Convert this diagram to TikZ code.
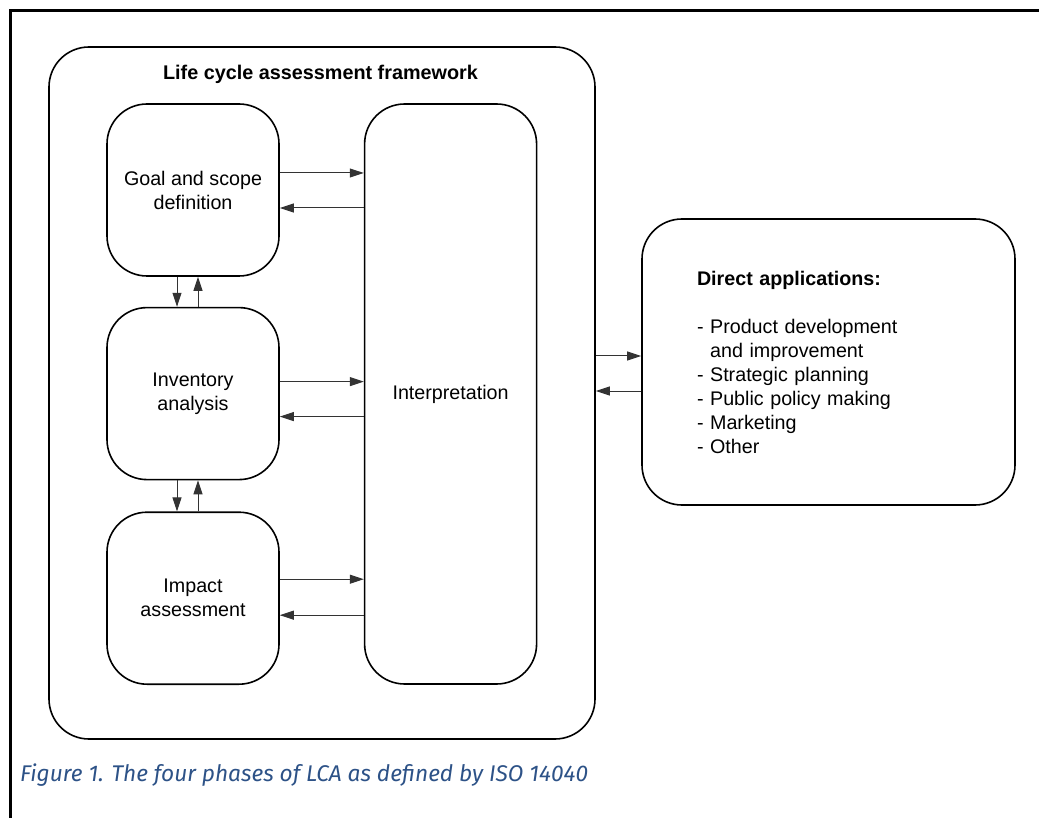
\documentclass[tikz,border=0pt]{standalone}
\usepackage{fontspec}
\setmainfont{Liberation Sans}
\newfontfamily\capfont{Fira Sans}
\usetikzlibrary{arrows.meta}
\usetikzlibrary{positioning}
\definecolor{capblue}{RGB}{45,82,135}
\begin{document}
\begin{tikzpicture}[x=1pt,y=-1pt]
  \tikzset{phase/.style={draw,line width=1.6pt,rounded corners=40pt,minimum width=172pt,
             minimum height=#1,align=center,font=\fontsize{19.7}{24}\selectfont},
           phase/.default=172pt,
           flow/.style={-{Triangle[length=14pt,width=9pt]},line width=1pt,black!80}}
  \useasboundingbox (0,0) rectangle (1039,818);
  \draw[line width=3.5pt] (1039,10.5) -- (10.5,10.5) -- (10.5,818);

  \node[phase=692pt,minimum width=546pt] (lca) at (322,393) {};
  \node[font=\bfseries\fontsize{19.8}{24}\selectfont] (title) at (320.5,74) {Life cycle assessment framework};
  \node[phase] (goal) at (193,190) {Goal and scope\\definition};
  \node[phase,below=30pt of goal] (inventory) {Inventory\\analysis};
  \node[phase,below=31pt of inventory] (impact) {Impact\\assessment};
  \node[phase=580pt,anchor=north west] (interp) at ([xshift=84pt]goal.north east) {Interpretation};
  \node[phase=286pt,minimum width=373pt,inner xsep=55pt,text width=263pt,align=left] (direct) at (828.5,362)
    {\textbf{Direct applications:}\\[24pt]
     - Product development\\
     \hphantom{- }and improvement\\
     - Strategic planning\\
     - Public policy making\\
     - Marketing\\
     - Other};

  \draw[flow] ([yshift=17pt]goal.east) -- ([yshift=17pt]goal.east -| interp.west);
  \draw[flow] ([yshift=-18pt]goal.east -| interp.west) -- ([yshift=-18pt]goal.east);
  \draw[flow] ([yshift=12pt]inventory.east) -- ([yshift=12pt]inventory.east -| interp.west);
  \draw[flow] ([yshift=-23pt]inventory.east -| interp.west) -- ([yshift=-23pt]inventory.east);
  \draw[flow] ([yshift=19pt]impact.east) -- ([yshift=19pt]impact.east -| interp.west);
  \draw[flow] ([yshift=-17pt]impact.east -| interp.west) -- ([yshift=-17pt]impact.east);

  \draw[flow] ([xshift=-16pt]goal.south) -- ([xshift=-16pt]inventory.north);
  \draw[flow] ([xshift=5pt]inventory.north) -- ([xshift=5pt]goal.south);
  \draw[flow] ([xshift=-16pt]inventory.south) -- ([xshift=-16pt]impact.north);
  \draw[flow] ([xshift=5pt]impact.north) -- ([xshift=5pt]inventory.south);

  \draw[flow] ([yshift=6pt]direct.west -| lca.east) -- ([yshift=6pt]direct.west);
  \draw[flow] ([yshift=-29pt]direct.west) -- ([yshift=-29pt]direct.west -| lca.east);

  \node[anchor=base west,text=capblue,inner sep=0pt,font=\capfont\itshape\fontsize{22.7}{26}\selectfont] (caption)
    at (20,781) {Figure 1. The four phases of LCA as defined by ISO 14040};
\end{tikzpicture}
\end{document}
